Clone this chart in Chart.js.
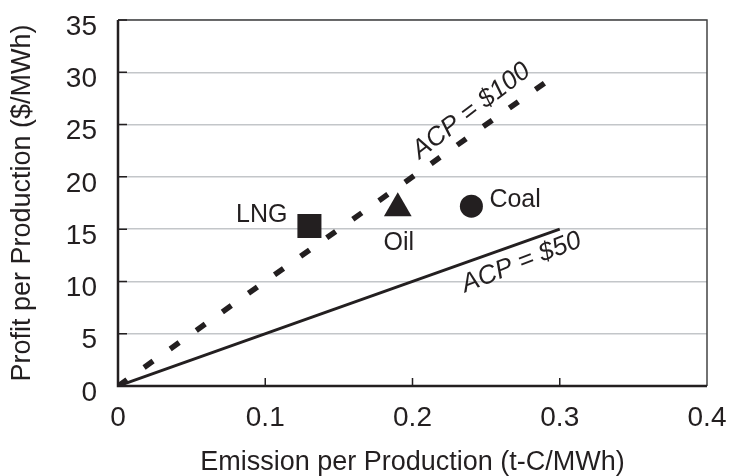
<!DOCTYPE html>
<html>
<head>
<meta charset="utf-8">
<script src="https://cdn.jsdelivr.net/npm/chart.js@4/dist/chart.umd.min.js"></script>
<style>
html, body { margin: 0; padding: 0; background: #fff; }
#wrap { width: 730px; height: 476px; }
</style>
</head>
<body>
<div id="wrap"><canvas id="chart"></canvas></div>
<script>
// ACP lines: profit = ACP * emission
const acp100X = [0, 0.29];
const acp100Y = [0, 29];
const acp50X = [0, 0.3];
const acp50Y = [0, 15];

// fuels
const fuelNames = ['LNG', 'Oil', 'Coal'];
const fuelX = [0.13, 0.19, 0.24];
const fuelY = [15.3, 17.0, 17.2];

const xTicks = [0, 0.1, 0.2, 0.3, 0.4];
const yTicks = [0, 5, 10, 15, 20, 25, 30, 35];

const ink = '#231f20';
const FONT = "'Liberation Sans', Arial, Helvetica, sans-serif";

// marker look + label offset (px) from the marker
const fuelStyle = {
    LNG:  { shape: 'rect',     r: 17,   dx: -22, dy: -11, align: 'right' },
    Oil:  { shape: 'triangle', r: 16,   dx: 1,   dy: 35,  align: 'center' },
    Coal: { shape: 'circle',   r: 11.5, dx: 18,  dy: -6,  align: 'left' }
};

// line labels, placed in data units, rotated with their line
const lineLabels = [
    { text: 'ACP = $100', x: 0.240, y: 26.3, lx: acp100X, ly: acp100Y },
    { text: 'ACP = $50',  x: 0.274, y: 11.8, lx: acp50X,  ly: acp50Y }
];

const pts = (xs, ys) => xs.map((v, i) => ({ x: v, y: ys[i] }));

const overlay = {
    id: 'overlay',
    afterDatasetsDraw(chart) {
        const { ctx, chartArea: a, scales: { x, y } } = chart;
        ctx.save();

        // frame
        ctx.strokeStyle = '#444';
        ctx.lineWidth = 1.5;
        ctx.beginPath();
        ctx.moveTo(a.left, a.top);
        ctx.lineTo(a.right, a.top);
        ctx.lineTo(a.right, a.bottom);
        ctx.stroke();
        ctx.strokeStyle = ink;
        ctx.lineWidth = 2.5;
        ctx.beginPath();
        ctx.moveTo(a.left, a.top);
        ctx.lineTo(a.left, a.bottom);
        ctx.lineTo(a.right, a.bottom);
        ctx.stroke();

        // inward ticks
        ctx.lineWidth = 1.5;
        ctx.beginPath();
        yTicks.forEach(v => {
            const py = y.getPixelForValue(v);
            ctx.moveTo(a.left, py);
            ctx.lineTo(a.left + 9, py);
        });
        xTicks.slice(1, -1).forEach(v => {
            const px = x.getPixelForValue(v);
            ctx.moveTo(px, a.bottom);
            ctx.lineTo(px, a.bottom - 8);
        });
        ctx.stroke();

        // fuel labels
        ctx.fillStyle = ink;
        ctx.font = '25px ' + FONT;
        ctx.textBaseline = 'middle';
        fuelNames.forEach((name, i) => {
            const s = fuelStyle[name];
            ctx.textAlign = s.align;
            ctx.fillText(name, x.getPixelForValue(fuelX[i]) + s.dx, y.getPixelForValue(fuelY[i]) + s.dy);
        });

        // ACP labels
        ctx.font = 'italic 26px ' + FONT;
        ctx.textAlign = 'center';
        lineLabels.forEach(l => {
            const ang = Math.atan2(
                y.getPixelForValue(l.ly[1]) - y.getPixelForValue(l.ly[0]),
                x.getPixelForValue(l.lx[1]) - x.getPixelForValue(l.lx[0])
            ) - 2 * Math.PI / 180;
            ctx.save();
            ctx.translate(x.getPixelForValue(l.x), y.getPixelForValue(l.y));
            ctx.rotate(ang);
            ctx.fillText(l.text, 0, 0);
            ctx.restore();
        });

        ctx.restore();
    }
};

const fuelSets = fuelNames.map((name, i) => ({
    label: name,
    data: [{ x: fuelX[i], y: fuelY[i] }],
    pointStyle: fuelStyle[name].shape,
    pointRadius: fuelStyle[name].r,
    backgroundColor: ink,
    borderColor: ink,
    borderWidth: 0
}));

new Chart(document.getElementById('chart'), {
    type: 'scatter',
    data: {
        datasets: [
            ...fuelSets,
            {
                label: 'ACP = $100',
                data: pts(acp100X, acp100Y),
                showLine: true,
                borderColor: ink,
                borderWidth: 5.5,
                borderDash: [11, 21],
                pointRadius: 0
            },
            {
                label: 'ACP = $50',
                data: pts(acp50X, acp50Y),
                showLine: true,
                borderColor: ink,
                borderWidth: 3,
                pointRadius: 0
            }
        ]
    },
    options: {
        responsive: true,
        maintainAspectRatio: false,
        animation: false,
        layout: { padding: { left: 0, right: 23, top: 20, bottom: 0 } },
        plugins: {
            legend: { display: false },
            tooltip: { enabled: false }
        },
        scales: {
            x: {
                type: 'linear',
                min: 0,
                max: 0.4,
                afterBuildTicks: s => { s.ticks = xTicks.map(v => ({ value: v })); },
                afterFit: s => {
                    s.height = 90;
                    s.paddingLeft = 0;
                    s.paddingRight = 0;
                },
                grid: { display: false, drawTicks: false },
                border: { display: false },
                ticks: {
                    padding: 15,
                    color: ink,
                    font: { family: FONT, size: 28 },
                    callback: v => String(v)
                },
                title: {
                    display: true,
                    text: 'Emission per Production (t-C/MWh)',
                    color: ink,
                    font: { family: FONT, size: 27, lineHeight: 1 },
                    padding: 0
                }
            },
            y: {
                min: 0,
                max: 35,
                afterBuildTicks: s => { s.ticks = yTicks.map(v => ({ value: v })); },
                afterFit: s => {
                    s.width = 118;
                    s.paddingTop = 0;
                    s.paddingBottom = 0;
                },
                grid: { color: '#c3c6c9', lineWidth: 1.5, drawTicks: false },
                border: { display: false },
                ticks: {
                    padding: 21,
                    labelOffset: 7,
                    color: ink,
                    font: { family: FONT, size: 28 }
                },
                title: {
                    display: true,
                    text: 'Profit per Production ($/MWh)',
                    color: ink,
                    font: { family: FONT, size: 27, lineHeight: 1 },
                    padding: { top: 9, bottom: 0 }
                }
            }
        }
    },
    plugins: [overlay]
});
</script>
</body>
</html>
